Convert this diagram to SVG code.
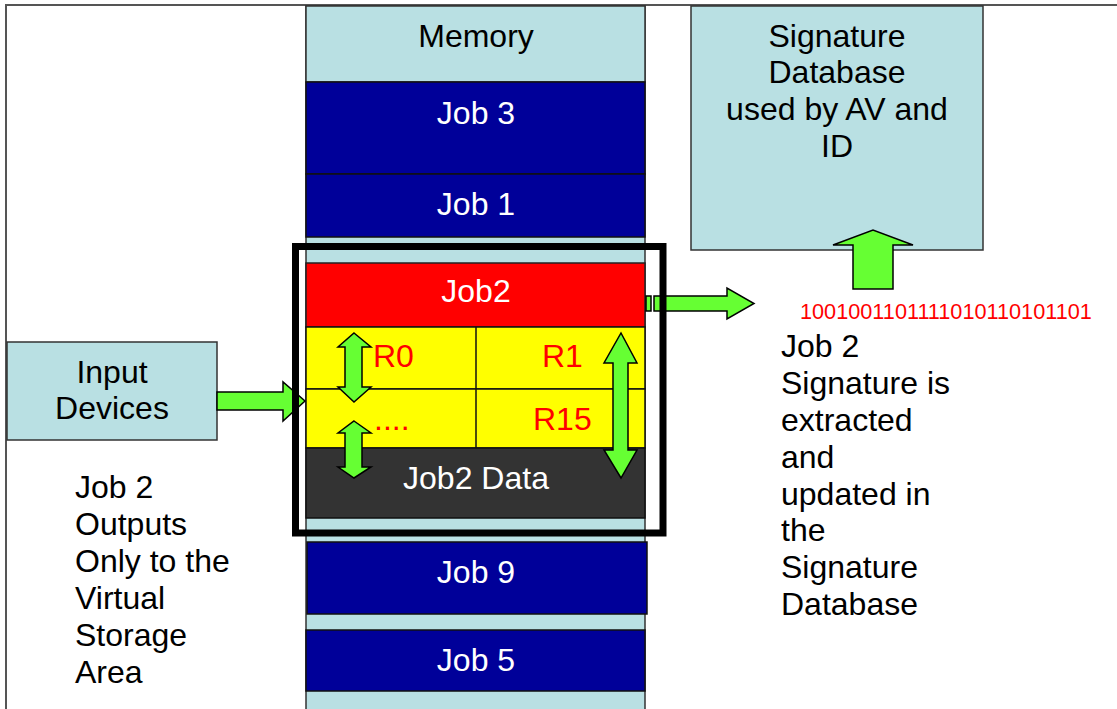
<svg xmlns="http://www.w3.org/2000/svg" width="1117" height="709" viewBox="0 0 1117 709">
<style>
text{font-family:"Liberation Sans",Arial,sans-serif;font-size:32px}
.c{text-anchor:middle}
.w{fill:#ffffff}
.k{fill:#000000}
.r{fill:#ff0000}
.lb{fill:#b9e0e3;stroke:#333333;stroke-width:1.5}
.db{fill:#000099;stroke:#111111;stroke-width:1.5}
.ar{fill:#66ff33;stroke:#000000;stroke-width:1.5;stroke-linejoin:miter}
</style>
<rect x="0" y="0" width="1117" height="709" fill="#ffffff"/>
<path d="M6,709 V5 H1117" fill="none" stroke="#555555" stroke-width="2"/>

<g id="memory">
<rect class="lb" x="306" y="6" width="339" height="710"/>
<rect class="lb" x="306" y="6" width="339" height="76"/>
<text class="c k" x="476" y="47">Memory</text>
</g>
<g id="job3">
<rect class="db" x="306" y="82" width="339" height="92"/>
<text class="c w" x="476" y="124">Job 3</text>
</g>
<g id="job1">
<rect class="db" x="306" y="174" width="339" height="63"/>
<text class="c w" x="476" y="215">Job 1</text>
</g>
<g id="job2">
<rect x="306" y="263" width="339" height="64" fill="#ff0000" stroke="#222" stroke-width="1.5"/>
<text class="c w" x="476" y="302">Job2</text>
</g>
<g id="registers">
<rect x="306" y="327" width="339" height="62" fill="#ffff00" stroke="#111" stroke-width="1.5"/>
<rect x="306" y="389" width="339" height="59" fill="#ffff00" stroke="#111" stroke-width="1.5"/>
<line x1="476" y1="327" x2="476" y2="448" stroke="#111" stroke-width="1.5"/>
<text class="r" x="373" y="367">R0</text>
<text class="r" x="542" y="367">R1</text>
<text class="r" x="374" y="430">....</text>
<text class="r" x="533" y="430">R15</text>
</g>
<g id="job2data">
<rect x="306" y="448" width="339" height="70" fill="#333333" stroke="#111" stroke-width="1.5"/>
<text class="c w" x="476" y="489">Job2 Data</text>
</g>
<g id="job9">
<rect class="db" x="307" y="542" width="340" height="72"/>
<text class="c w" x="476" y="583">Job 9</text>
</g>
<g id="job5">
<rect class="db" x="306" y="630" width="339" height="61"/>
<text class="c w" x="476" y="671">Job 5</text>
</g>

<g id="input-devices">
<rect class="lb" x="7" y="342" width="210" height="98"/>
<text class="c k" x="112" y="383">Input</text>
<text class="c k" x="112" y="419">Devices</text>
</g>

<g id="signature-db">
<rect class="lb" x="691" y="6" width="292" height="244"/>
<text class="c k" x="837" y="47">Signature</text>
<text class="c k" x="837" y="83">Database</text>
<text class="c k" x="837" y="120">used by AV and</text>
<text class="c k" x="837" y="157">ID</text>
</g>

<g id="connectors">
<path class="ar" d="M217,392 H283 V382 L305,401 L283,421 V410 H217 Z"/>
<rect class="ar" x="646" y="296" width="5" height="15"/>
<path class="ar" d="M654,296 H727 V288 L754,303.5 L727,319 V311 H654 Z"/>
<path class="ar" d="M853,289 V245 H833 L873,230 L913,245 H893 V289 Z"/>
<path class="ar" d="M354,333 L371,347 H362 V387 H371 L354,402 L338,387 H345 V347 H338 Z"/>
<path class="ar" d="M354,421 L371,433 H362 V467 H371 L354,478 L338,467 H345 V433 H338 Z"/>
<path class="ar" d="M621,333 L637,363 H628 V450 H637 L621,478 L604,450 H613 V363 H604 Z"/>
</g>

<g id="selection-frame">
<rect x="295.5" y="246.5" width="367.5" height="286.5" fill="none" stroke="#000000" stroke-width="7"/>
</g>

<g id="signature-bits">
<text class="r" x="800" y="319" style="font-size:21.7px">1001001101111010110101101</text>
</g>

<g id="note-outputs">
<text class="k" x="75" y="498">Job 2</text>
<text class="k" x="75" y="535">Outputs</text>
<text class="k" x="75" y="572">Only to the</text>
<text class="k" x="75" y="609">Virtual</text>
<text class="k" x="75" y="646">Storage</text>
<text class="k" x="75" y="683">Area</text>
</g>

<g id="note-signature">
<text class="k" x="781" y="357">Job 2</text>
<text class="k" x="781" y="394">Signature is</text>
<text class="k" x="781" y="431">extracted</text>
<text class="k" x="781" y="468">and</text>
<text class="k" x="781" y="505">updated in</text>
<text class="k" x="781" y="541">the</text>
<text class="k" x="781" y="578">Signature</text>
<text class="k" x="781" y="615">Database</text>
</g>
</svg>
